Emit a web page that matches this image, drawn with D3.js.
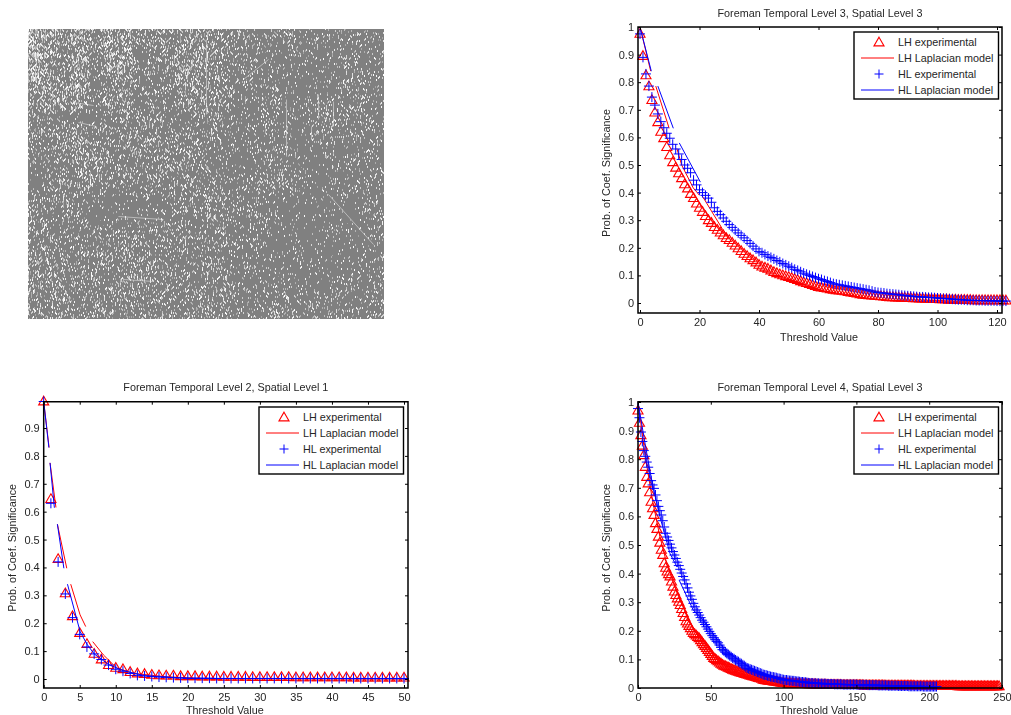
<!DOCTYPE html>
<html>
<head>
<meta charset="utf-8">
<script src="https://cdn.jsdelivr.net/npm/d3@7"></script>
<style>
    html, body { margin: 0; padding: 0; background: #fff; overflow: hidden; }
    #page { position: relative; width: 1011px; height: 715px; }
    canvas { position: absolute; left: 28px; top: 29px; }
    svg { position: absolute; left: 0; top: 0; filter: blur(0.3px); }
    text { font-family: "Liberation Sans", Arial, sans-serif; fill: #262626; }
</style>
</head>
<body>
<div id="page"></div>
<script>
// Foreman Temporal Level 3, Spatial Level 3 (threshold 0, 1, 2 ...)
const lhLevel3 = [
    .975,.895,.825,.785,.735,.69,.655,.62,.597,.565,
    .535,.51,.49,.47,.452,.43,.415,.395,.38,.36,
    .345,.33,.315,.30,.29,.275,.265,.255,.245,.235,
    .228,.218,.208,.198,.188,.178,.17,.162,.155,.147,
    .138,.132,.128,.124,.118,.112,.108,.104,.10,.097,
    .094,.09,.087,.083,.079,.075,.072,.069,.065,.061,
    .058,.056,.054,.052,.05,.048,.046,.045,.044,.042,
    .04,.038,.036,.034,.032,.03,.029,.028,.027,.026,
    .025,.024,.023,.022,.021,.021,.02,.02,.019,.019,
    .018,.018,.017,.017,.016,.016,.015,.015,.014,.014,
    .014,.013,.013,.013,.012,.012,.012,.011,.011,.011,
    .011,.011,.01,.01,.01,.01,.01,.01,.01,.01,
    .01,.01,.01,.009];
const hlLevel3 = [
    .975,.89,.83,.786,.746,.717,.685,.657,.635,.615,
    .597,.575,.558,.54,.52,.50,.488,.472,.445,.428,
    .41,.40,.39,.38,.365,.345,.332,.32,.308,.296,
    .284,.274,.264,.254,.245,.236,.226,.216,.206,.196,
    .187,.182,.176,.17,.165,.16,.154,.149,.143,.138,
    .133,.128,.122,.118,.113,.108,.104,.1,.096,.092,
    .088,.085,.081,.078,.074,.07,.068,.066,.064,.062,
    .06,.058,.056,.054,.052,.05,.048,.046,.043,.04,
    .038,.037,.036,.034,.033,.032,.031,.03,.028,.027,
    .026,.025,.024,.023,.022,.022,.021,.02,.02,.019,
    .018,.017,.016,.016,.015,.014,.013,.012,.012,.011,
    .01,.01,.01,.009,.009,.009,.008,.008,.008,.008,
    .007,.007,.007,.007];
const lhModelLevel3 = [
    [[0,1],[3.6,.84]],
    [[5.3,.786],[9.8,.633]],
    [[12.4,.56],[14,.5],[17.9,.417],[20,.39]],
    [[20.8,.39],[27.6,.27],[30,.235]]];
const hlModelLevel3 = [
    [[0,1],[3.8,.84]],
    [[6,.786],[11.2,.633]],
    [[13.2,.58],[20.3,.438]]];

// Foreman Temporal Level 2, Spatial Level 1
const lhLevel2 = [
    .995,.645,.43,.307,.225,.165,.125,.09,.07,.05,
    .04,.035,.025,.02,.018,.015,.013,.012,.012,.01,
    .01,.01,.009,.009,.009,.008,.008,.008,.008,.007,
    .007,.007,.007,.007,.007,.006,.006,.006,.006,.006,
    .006,.006,.006,.005,.005,.005,.005,.005,.005,.005,.005];
const hlLevel2 = [
    .995,.63,.42,.305,.22,.16,.115,.09,.07,.05,
    .035,.028,.02,.013,.011,.009,.007,.006,.005,.004,
    .003,.003,.003,.003,.002,.002,.002,.002,.002,.002,
    .002,.002,.002,.002,.002,.002,.002,.002,.002,.002,
    .002,.002,.002,.002,.002,.002,.002,.002,.002,.002,.002];
const lhModelLevel2 = [
    [[0,.995],[.75,.83]],
    [[.88,.775],[1.7,.615]],
    [[1.9,.555],[3.2,.397]],
    [[3.75,.34],[5.05,.23],[5.83,.188]],
    [[6.8,.134],[8.3,.086],[10.1,.04],[12.5,.02],[17,.008],[24,0],[50.6,0]]];
const hlModelLevel2 = [
    [[0,.995],[.72,.83]],
    [[.88,.775],[1.48,.614]],
    [[1.9,.555],[2.8,.397]],
    [[3.3,.34],[5.05,.17]],
    [[5.05,.17],[6,.125],[7,.09],[9,.052],[11,.03],[14,.012],[20,.002],[50.6,.001]]];

// Foreman Temporal Level 4, Spatial Level 3
const lhLevel4 = [
    .97,.927,.884,.847,.814,.773,.738,.715,.684,.651,
    .628,.605,.576,.556,.529,.508,.483,.465,.436,.42,
    .407,.398,.39,.372,.354,.337,.325,.313,.301,.29,
    .276,.262,.248,.233,.225,.217,.209,.2,.192,.188,
    .183,.178,.174,.167,.16,.153,.147,.14,.133,.126,
    .119,.112,.105,.101,.097,.093,.089,.085,.081,.078,
    .076,.074,.071,.069,.066,.064,.062,.06,.058,.057,
    .055,.053,.052,.05,.049,.047,.046,.044,.043,.041,
    .04,.038,.037,.035,.034,.032,.029,.028,.027,.026,
    .025,.025,.024,.023,.023,.022,.021,.02,.019,.018,
    .017,.017,.017,.016,.016,.016,.016,.015,.015,.015,
    .015,.015,.014,.014,.014,.014,.014,.013,.013,.013,
    .013,.013,.013,.012,.012,.012,.012,.012,.012,.012,
    .011,.011,.011,.011,.011,.011,.011,.011,.011,.011,
    .01,.01,.01,.01,.01,.01,.01,.01,.01,.01,
    .01,.01,.01,.01,.01,.009,.009,.009,.009,.009,
    .009,.009,.009,.009,.009,.009,.009,.009,.009,.009,
    .008,.008,.008,.008,.008,.008,.008,.008,.008,.008,
    .008,.008,.008,.008,.008,.008,.008,.008,.008,.008,
    .007,.007,.007,.007,.007,.007,.007,.007,.007,.007,
    .007,.007,.007,.007,.007,.007,.007,.007,.007,.007,
    .007,.007,.007,.007,.007,.007,.007,.007,.007,.007,
    .006,.006,.006,.006,.006,.006,.006,.006,.006,.006,
    .006,.006,.006,.006,.006,.006,.006,.006,.006,.006,
    .006,.006,.006,.006,.006,.006,.006,.006,.006];
const hlLevel4 = [
    .977,.945,.895,.862,.83,.81,.79,.772,.75,.725,
    .71,.698,.675,.655,.635,.62,.605,.585,.563,.541,
    .528,.516,.503,.49,.477,.465,.453,.44,.428,.415,
    .402,.39,.378,.364,.35,.335,.322,.31,.296,.284,
    .273,.264,.255,.246,.237,.23,.222,.214,.206,.198,
    .19,.183,.176,.169,.163,.158,.15,.142,.134,.13,
    .125,.121,.117,.113,.109,.105,.102,.098,.095,.092,
    .088,.085,.081,.078,.074,.07,.068,.066,.064,.062,
    .06,.058,.056,.054,.052,.05,.047,.046,.045,.043,
    .042,.04,.039,.038,.037,.036,.034,.033,.032,.03,
    .029,.028,.028,.027,.026,.026,.025,.025,.024,.023,
    .023,.022,.021,.021,.02,.02,.019,.018,.017,.017,
    .017,.016,.016,.016,.016,.015,.015,.015,.015,.015,
    .014,.014,.014,.014,.014,.013,.013,.013,.013,.013,
    .013,.012,.012,.012,.012,.012,.012,.012,.012,.012,
    .012,.011,.011,.011,.011,.011,.011,.011,.01,.01,
    .01,.01,.01,.01,.01,.009,.009,.009,.009,.009,
    .009,.009,.008,.008,.008,.008,.008,.008,.008,.007,
    .007,.007,.007,.007,.007,.007,.006,.006,.006,.006,
    .006,.006,.006,.006,.006,.006,.005,.005,.005,.005,
    .005,.005,.005,.005,.005,.005];
const lhModelLevel4 = [
    [[0,1],[5,.81],[10,.655],[15,.53],[20,.43],[27,.33]],
    [[28,.315],[38,.21],[50,.115],[70,.05],[100,.015],[150,.005],[250,.002]]];
const hlModelLevel4 = [
    [[0,1],[5,.85],[10,.71],[15,.6],[22,.47],[26.8,.423]],
    [[28.2,.378],[37.9,.273],[44.7,.238],[60,.13],[80,.06],[100,.028],[150,.008],[205,.003]]];

const legendLabels = ['LH experimental', 'LH Laplacian model', 'HL experimental', 'HL Laplacian model'];

// residual frame, share of light pixels read per block of the picture
const frameDensity = [
    [9,8,5,8,4,6,7,4,5,4,5,6,5,4,3,3,3,3,2,3,3,2,2,2],
    [9,7,4,8,3,7,7,2,4,3,6,7,4,3,3,3,2,2,2,2,2,3,2,2],
    [8,5,3,7,2,6,6,2,4,3,7,7,4,3,3,2,2,2,1,1,2,3,2,2],
    [7,7,5,8,2,3,4,3,3,3,7,6,4,3,3,2,3,2,1,1,1,3,2,2],
    [5,7,6,6,3,6,5,3,4,3,4,4,5,3,3,2,4,2,2,2,3,3,2,2],
    [4,4,1,1,1,2,4,3,4,1,1,3,5,2,2,2,3,2,2,3,4,2,2,2],
    [4,4,5,5,4,3,4,4,4,5,4,3,3,2,2,1,2,2,1,3,3,2,2,2],
    [3,3,4,5,5,3,3,4,4,4,4,3,2,2,2,2,4,3,1,1,1,2,2,2],
    [2,3,4,5,5,3,3,3,4,5,4,3,2,2,1,1,4,3,1,1,2,2,2,2],
    [1,2,3,4,3,4,3,3,3,3,3,3,3,1,2,3,4,4,2,1,2,2,2,2],
    [4,4,4,3,1,1,1,1,2,3,3,3,4,3,3,2,1,1,1,1,1,2,2,2],
    [5,2,3,3,1,1,1,1,2,2,3,3,4,3,3,3,1,1,1,1,1,1,2,2],
    [4,4,3,3,3,3,3,4,3,3,3,3,3,3,2,2,1,1,1,1,2,2,2,2],
    [4,4,3,3,3,3,4,3,3,3,3,3,3,2,2,2,1,1,1,1,2,2,2,2],
    [4,4,3,3,3,3,3,4,4,3,3,3,3,2,2,2,1,1,1,1,1,2,2,2],
    [4,4,4,3,3,3,4,4,4,3,3,3,3,2,2,2,2,1,1,1,2,2,2,2],
    [4,4,4,4,3,3,4,4,3,3,3,3,3,3,3,2,2,2,2,2,2,3,2,3],
    [4,4,4,3,4,4,3,3,3,3,4,4,3,3,3,3,3,3,3,3,3,3,3,3]];
const frameStreaks = [
    [178,10,178,85],[258,70,258,127],[90,33,90,50],
    [283,97,283,109],[305,72,305,97],[290,65,290,90],[90,187,135,190],
    [95,250,125,252],[240,30,215,50],[300,165,345,215],[45,73,65,76],[50,93,68,97]];

// fixed grain for the frame texture, same picture on every run
function grain(x, y) {
    const s = Math.sin(x * 12.9898 + y * 78.233) * 43758.5453;
    return s - Math.floor(s);
}

function drawFrame() {
    const w = 356, h = 290;
    const canvas = d3.select('#page').append('canvas')
        .attr('width', w).attr('height', h).node();
    const ctx = canvas.getContext('2d');
    const img = ctx.createImageData(w, h);

    const col = d3.scaleLinear().domain([0, w]).range([-0.5, frameDensity[0].length - 0.5]);
    const row = d3.scaleLinear().domain([0, h]).range([-0.5, frameDensity.length - 0.5]);

    for (let y = 0; y < h; y++) {
        const r = Math.max(0, Math.min(frameDensity.length - 1.001, row(y)));
        const r0 = Math.floor(r);
        for (let x = 0; x < w; x++) {
            const c = Math.max(0, Math.min(frameDensity[0].length - 1.001, col(x)));
            const c0 = Math.floor(c);
            const top = d3.interpolate(frameDensity[r0][c0], frameDensity[r0][c0 + 1])(c - c0);
            const bot = d3.interpolate(frameDensity[r0 + 1][c0], frameDensity[r0 + 1][c0 + 1])(c - c0);
            const share = d3.interpolate(top, bot)(r - r0) / 15;
            const t = grain(x, (y + (x % 2)) >> 1);
            const v = t < share ? 160 + 95 * (1 - t / share) : 128;
            const i = (y * w + x) * 4;
            img.data[i] = img.data[i + 1] = img.data[i + 2] = v;
            img.data[i + 3] = 255;
        }
    }
    ctx.putImageData(img, 0, 0);

    ctx.strokeStyle = 'rgba(255,255,255,0.45)';
    ctx.lineWidth = 1;
    frameStreaks.forEach(d => {
        ctx.beginPath();
        ctx.moveTo(d[0] + 0.5, d[1] + 0.5);
        ctx.lineTo(d[2] + 0.5, d[3] + 0.5);
        ctx.stroke();
    });
}

class ThresholdChart {
    constructor(_config, _svg) {
        this.config = _config;
        this.svg = _svg;
        this.InitVis();
        this.RenderVis();
    }

    InitVis() {
        let vis = this;
        const c = vis.config;

        vis.xScale = d3.scaleLinear().domain(c.xDomain).range(c.xRange);
        vis.yScale = d3.scaleLinear().domain(c.yDomain).range(c.yRange);
        vis.line = d3.line().x(d => vis.xScale(d[0])).y(d => vis.yScale(d[1]));
        vis.g = vis.svg.append('g');
    }

    RenderVis() {
        let vis = this;
        const c = vis.config;
        const [left, right] = [c.box.left, c.box.right];
        const [top, bottom] = [c.box.top, c.box.bottom];

        // marks first, the axes sit on top of them
        vis.g.selectAll('.lh')
            .data(c.lh)
            .join('path')
            .attr('class', 'lh')
            .attr('d', d3.symbol(d3.symbolTriangle, 44))
            .attr('transform', (d, i) => `translate(${vis.xScale(i)},${vis.yScale(d) + 0.5})`)
            .attr('fill', 'none')
            .attr('stroke', '#ff0000')
            .attr('stroke-width', 1.1);

        vis.g.selectAll('.lh-model')
            .data(c.lhModel)
            .join('path')
            .attr('class', 'lh-model')
            .attr('d', vis.line)
            .attr('fill', 'none')
            .attr('stroke', '#ff0000')
            .attr('stroke-width', 1);

        vis.g.selectAll('.hl')
            .data(c.hl)
            .join('path')
            .attr('class', 'hl')
            .attr('d', 'M-5,0H5M0,-5V5')
            .attr('transform', (d, i) => `translate(${vis.xScale(i)},${vis.yScale(d)})`)
            .attr('fill', 'none')
            .attr('stroke', '#0000ff')
            .attr('stroke-width', 1);

        vis.g.selectAll('.hl-model')
            .data(c.hlModel)
            .join('path')
            .attr('class', 'hl-model')
            .attr('d', vis.line)
            .attr('fill', 'none')
            .attr('stroke', '#0000ff')
            .attr('stroke-width', 1);

        // axes on all four sides, labels on left and bottom only
        const fmt = d => String(+d.toFixed(1));
        const xAxis = d3.axisBottom(vis.xScale).tickValues(c.xTicks).tickSizeOuter(0).tickSizeInner(-3).tickPadding(5).tickFormat(fmt);
        const yAxis = d3.axisLeft(vis.yScale).tickValues(c.yTicks).tickSizeOuter(0).tickSizeInner(-3).tickPadding(4).tickFormat(fmt);
        const xTop = d3.axisTop(vis.xScale).tickValues(c.xTicks).tickSizeOuter(0).tickSizeInner(-3).tickFormat('');
        const yRight = d3.axisRight(vis.yScale).tickValues(c.yTicks).tickSizeOuter(0).tickSizeInner(-3).tickFormat('');

        const axisG = vis.g.append('g');
        axisG.append('g').attr('transform', `translate(0,${bottom})`).call(xAxis);
        axisG.append('g').attr('transform', `translate(${left},0)`).call(yAxis);
        axisG.append('g').attr('transform', `translate(0,${top})`).call(xTop);
        axisG.append('g').attr('transform', `translate(${right},0)`).call(yRight);
        axisG.selectAll('.domain').remove();
        axisG.selectAll('.tick line').attr('stroke', '#000');
        axisG.selectAll('.tick text').attr('font-size', 11).attr('font-family', '"Liberation Sans", Arial, sans-serif').attr('fill', '#262626');

        vis.g.append('path')
            .attr('d', `M${left},${top}H${right}V${bottom}H${left}Z`)
            .attr('fill', 'none')
            .attr('stroke', '#000')
            .attr('stroke-width', 1.5);

        const cx = (left + right) / 2;
        vis.g.append('text').attr('x', cx).attr('y', top - 10.5)
            .attr('text-anchor', 'middle').attr('font-size', 10.8).text(c.title);
        vis.g.append('text').attr('x', cx - 1).attr('y', c.xLabelY)
            .attr('text-anchor', 'middle').attr('font-size', 10.8).text('Threshold Value');
        vis.g.append('text')
            .attr('transform', `translate(${left - 28},${(top + bottom) / 2 + 3}) rotate(-90)`)
            .attr('text-anchor', 'middle').attr('font-size', 10.8).text('Prob. of Coef. Significance');

        vis.RenderLegend();
    }

    RenderLegend() {
        let vis = this;
        const c = vis.config;
        const legend = vis.g.append('g').attr('transform', `translate(${c.legend[0]},${c.legend[1]})`);

        legend.append('rect').attr('width', 144.5).attr('height', 67)
            .attr('fill', '#fff').attr('stroke', '#000').attr('stroke-width', 1.4);

        const rowY = d3.scalePoint().domain(legendLabels).range([10, 58]);
        legend.selectAll('text').data(legendLabels).join('text')
            .attr('x', 44).attr('y', d => rowY(d) + 3.8).attr('font-size', 10.8).text(d => d);

        legend.append('path').attr('d', d3.symbol(d3.symbolTriangle, 44))
            .attr('transform', `translate(25,${rowY(legendLabels[0]) + 1})`)
            .attr('fill', 'none').attr('stroke', '#ff0000').attr('stroke-width', 1.1);
        legend.append('path').attr('d', `M7,${rowY(legendLabels[1])}H40`).attr('stroke', '#ff0000');
        legend.append('path').attr('d', `M20.5,${rowY(legendLabels[2])}h9M25,${rowY(legendLabels[2]) - 4.5}v9`)
            .attr('stroke', '#0000ff');
        legend.append('path').attr('d', `M7,${rowY(legendLabels[3])}H40`).attr('stroke', '#0000ff');
    }
}

drawFrame();

const svg = d3.select('#page').append('svg').attr('width', 1011).attr('height', 715);

new ThresholdChart({
    title: 'Foreman Temporal Level 3, Spatial Level 3',
    lh: lhLevel3, hl: hlLevel3, lhModel: lhModelLevel3, hlModel: hlModelLevel3,
    xDomain: [0, 120], xRange: [640, 997],
    yDomain: [0, 1], yRange: [303, 27],
    box: {left: 638, right: 1002, top: 27, bottom: 313},
    xTicks: d3.range(0, 121, 20), yTicks: d3.range(0, 11).map(d => d / 10),
    xLabelY: 341, legend: [854, 32]
}, svg);

new ThresholdChart({
    title: 'Foreman Temporal Level 2, Spatial Level 1',
    lh: lhLevel2, hl: hlLevel2, lhModel: lhModelLevel2, hlModel: hlModelLevel2,
    xDomain: [0, 50], xRange: [43.7, 404],
    yDomain: [0, .9], yRange: [679, 428],
    box: {left: 43.7, right: 408, top: 401.7, bottom: 688},
    xTicks: d3.range(0, 51, 5), yTicks: d3.range(0, 10).map(d => d / 10),
    xLabelY: 714, legend: [259, 407]
}, svg);

new ThresholdChart({
    title: 'Foreman Temporal Level 4, Spatial Level 3',
    lh: lhLevel4, hl: hlLevel4, lhModel: lhModelLevel4, hlModel: hlModelLevel4,
    xDomain: [0, 250], xRange: [638, 1002],
    yDomain: [0, 1], yRange: [688, 402],
    box: {left: 638, right: 1002, top: 401.7, bottom: 688},
    xTicks: d3.range(0, 251, 50), yTicks: d3.range(0, 11).map(d => d / 10),
    xLabelY: 714, legend: [854, 407]
}, svg);
</script>
</body>
</html>
